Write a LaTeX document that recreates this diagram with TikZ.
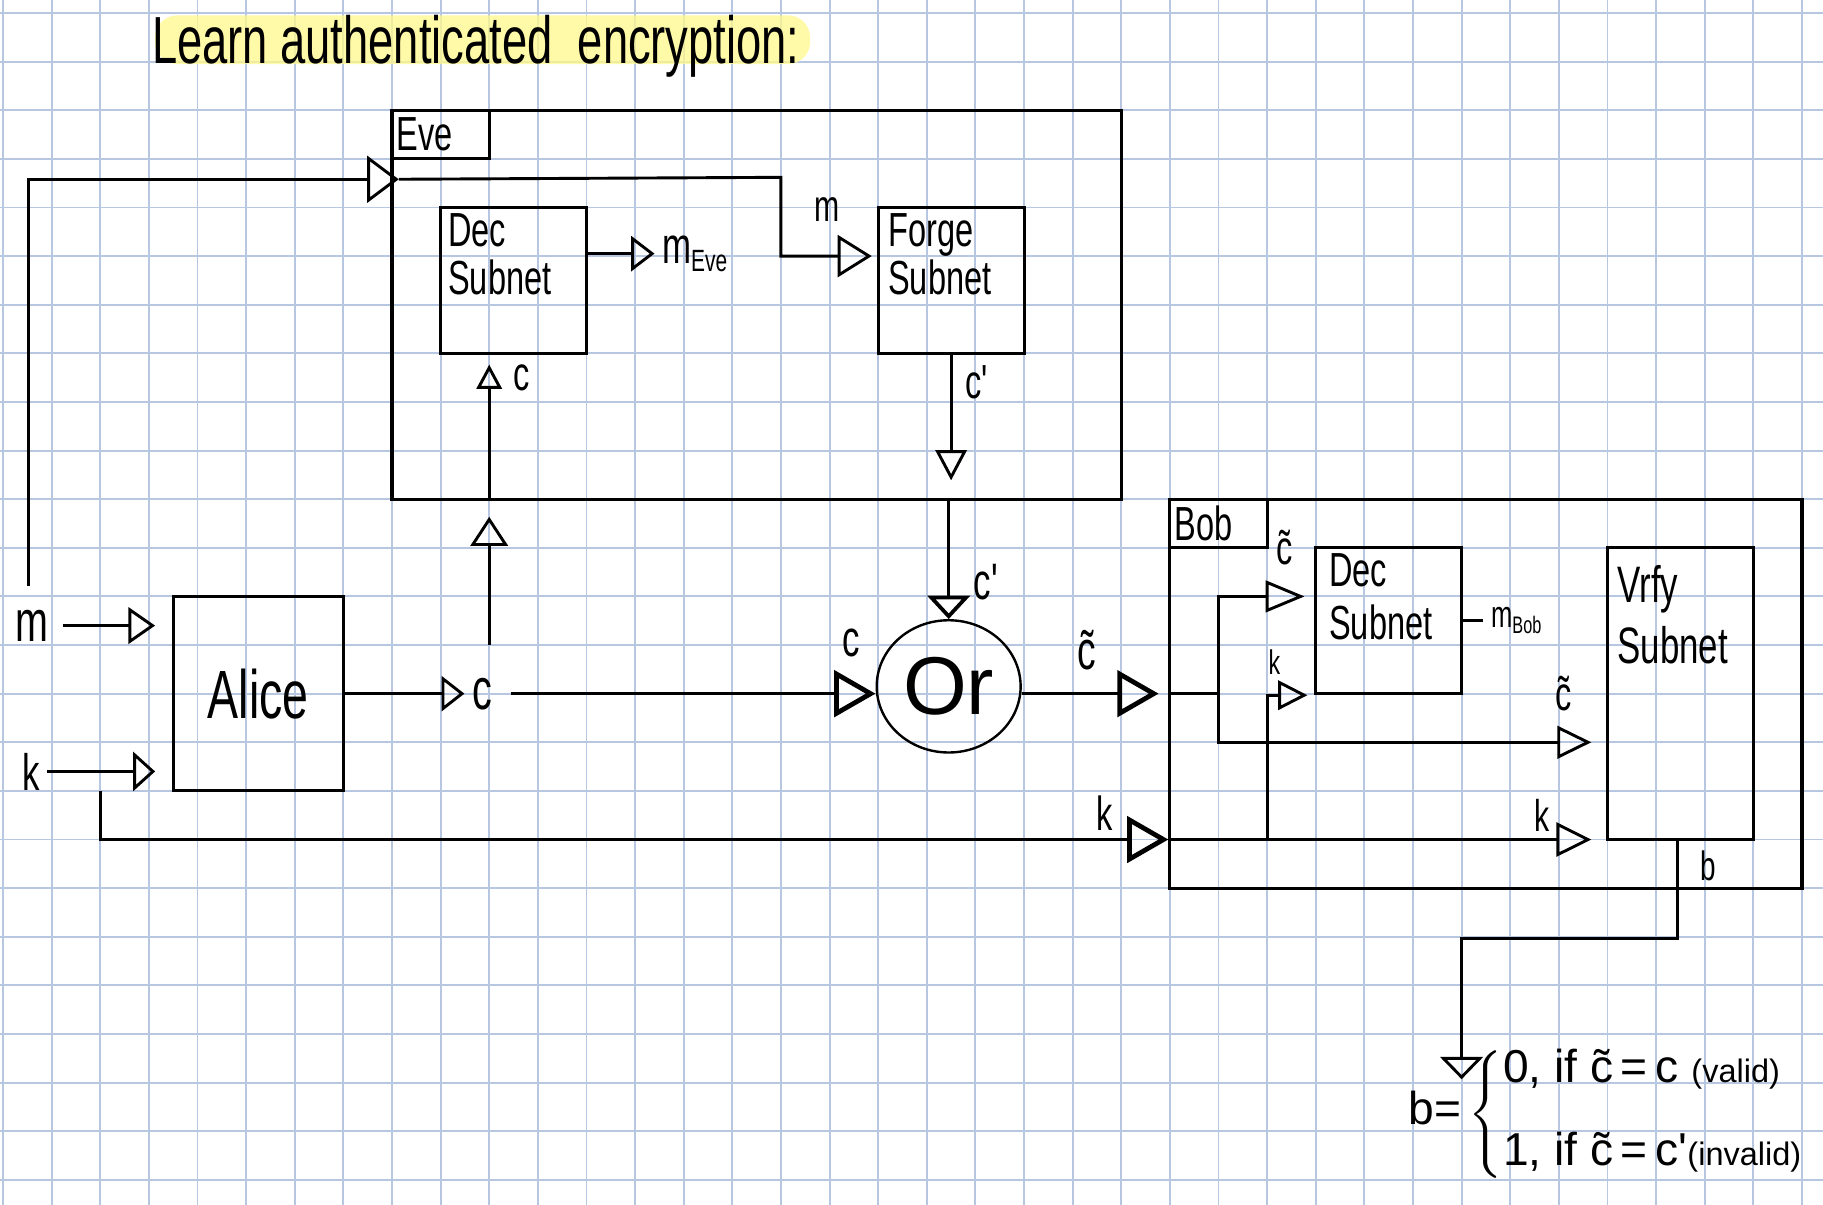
\documentclass[tikz,border=0pt]{standalone}
\usepackage{amsmath}
\usepackage{fontspec}
\setmainfont{Liberation Sans}[FakeStretch=0.68]
\newfontfamily\wide{Liberation Sans}
\usetikzlibrary{shapes.geometric, arrows.meta, positioning, calc}

\definecolor{gridblue}{RGB}{184,199,225}
\definecolor{marker}{RGB}{255,249,140}

\newcommand{\hand}[1]{\fontsize{#1}{#1}\selectfont}
\newcommand{\ctl}{c^^^^0303}
\newcommand{\cpr}{c\textquotesingle}

\begin{document}
\begin{tikzpicture}[
    x=1cm, y=-1cm,
    gridline/.style={gridblue, line width=1.1pt},
    box/.style={draw, line width=1.8pt, inner sep=0pt},
    tagbox/.style={box, minimum width=2cm, minimum height=1cm, anchor=north west,
                   text width=1.8cm, align=left, font=\hand{28}},
    subtitle/.style={inner sep=0pt, anchor=north west, align=left, font=\hand{28}},
    lbl/.style={inner sep=0pt, font=\hand{#1}},
    lbl/.default=30,
    wire/.style={line width=1.7pt},
    arrow/.style={-{Triangle[open, #1]}, line width=1.7pt},
    arrow/.default={length=5.5mm, width=7mm},
    bigarrow/.style={-{Triangle[open, length=8.5mm, width=9.5mm, line width=2.8pt]}, line width=1.7pt}
]
    % squared paper
    \useasboundingbox (-0.062,-0.267) rectangle (37.433,24.517);
    \fill[white] (-0.062,-0.267) rectangle (37.433,24.517);
    \foreach \i in {0,...,37}
        \draw[gridline] (\i,-0.267) -- (\i,24.517);
    \foreach \j in {0,...,24}
        \draw[gridline] (-0.062,\j) -- (37.433,\j);

    % heading
    \fill[marker, opacity=0.75, rounded corners=0.45cm] (3.13,0.05) rectangle (16.6,1.05);
    \node[inner sep=0pt, anchor=base west, font=\hand{39}] (heading) at (3.06,1.03)
        {Learn authenticated\ \ encryption:};

    % Eve
    \node[box, minimum width=15cm, minimum height=8cm] (eve) at (15.5,6) {};
    \node[tagbox] (evetag) at (eve.north west) {Eve};
    \node[box, minimum width=3cm, minimum height=3cm] (evedec) at (10.5,5.5) {};
    \node[subtitle] (evedectext) at (9.15,4.12) {Dec\\Subnet};
    \node[box, minimum width=3cm, minimum height=3cm] (forge) at (19.5,5.5) {};
    \node[subtitle] (forgetext) at (18.2,4.12) {Forge\\Subnet};

    % Alice and the or gate
    \node[box, minimum width=3.5cm, minimum height=4cm, font=\hand{40}] (alice) at (5.25,14) {Alice};
    \node[draw, ellipse, line width=1.4pt, inner sep=0pt, minimum width=2.96cm,
          minimum height=2.72cm, font=\wide\hand{48}] (or) at (19.45,13.85) {Or};

    % Bob
    \node[box, minimum width=13cm, minimum height=8cm] (bob) at (30.5,14) {};
    \node[tagbox] (bobtag) at (bob.north west) {Bob};
    \node[box, minimum width=3cm, minimum height=3cm] (bobdec) at (28.5,12.5) {};
    \node[subtitle] (bobdectext) at (27.27,11.12) {Dec\\[0.1cm]Subnet};
    \node[box, minimum width=3cm, minimum height=6cm] (vrfy) at (34.5,14) {};
    \node[subtitle, font=\hand{30}] (vrfytext) at (33.2,11.35) {Vrfy\\[0.2cm]Subnet};

    % labels
    \node[lbl=34] (min) at (0.6,12.6) {m};
    \node[lbl=30] (kin) at (0.57,15.6) {k};
    \node[lbl=34] (cmain) at (9.85,14) {c};
    \node[lbl=28] (cdec) at (10.67,7.5) {c};
    \node[lbl=30, anchor=west] (meve) at (13.55,4.95) {m\raisebox{-0.15em}{\hand{18}Eve}};
    \node[lbl=26] (mforge) at (16.95,4.05) {m};
    \node[lbl=28] (cpforge) at (20.05,7.6) {\cpr};
    \node[lbl=30] (cpor) at (20.25,11.7) {\cpr};
    \node[lbl=30] (cor) at (17.45,12.95) {c};
    \node[lbl=32] (ctor) at (22.3,13.1) {\ctl};
    \node[lbl=28] (kbob) at (22.65,16.45) {k};
    \node[lbl=28] (ctdec) at (26.35,11) {\ctl};
    \node[lbl=20] (kdec) at (26.15,13.35) {k};
    \node[lbl=22, anchor=west] (mbob) at (30.6,12.5) {m\raisebox{-0.15em}{\hand{14}Bob}};
    \node[lbl=28] (ctvrfy) at (32.1,14) {\ctl};
    \node[lbl=26] (kvrfy) at (31.65,16.5) {k};
    \node[lbl=24] (bout) at (35.07,17.55) {b};
    \node[inner sep=0pt, anchor=west, font=\wide\hand{27}] (bval) at (28.9,22.65)
        {b=\,$\left\{\begin{tabular}{@{}l@{}}0,\ if \ctl\,=\,c\ {\hand{19}(valid)}\\[0.75cm]
         1,\ if \ctl\,=\,\cpr{\hand{19}(invalid)}\end{tabular}\right.$};

    \coordinate (evein) at (8.14,3.42);
    \coordinate (forgein) at (forge.west |- 0,5);
    \coordinate (cup) at (10,13);
    \coordinate (ksplit) at (2,16);
    \coordinate (csplit) at (25,14);
    \coordinate (kbsplit) at (26,17);
    \coordinate (bdown) at (30,21.93);

    % Alice's inputs
    \draw[arrow={length=5.5mm, width=7.5mm}, shorten <=0.28cm, shorten >=0.34cm] (min.east) -- (min.east -| alice.west);
    \draw[arrow={length=4.5mm, width=8mm}, shorten <=0.15cm, shorten >=0.34cm] (kin.east) -- (kin.east -| alice.west);
    \draw[arrow={length=6.5mm, width=9.6mm}, shorten <=0.48cm] ([xshift=-0.07cm]min.north) |- (evein);
    \draw[arrow={length=7mm, width=8.6mm}, shorten >=0.1cm] (evein) -- (16,3.38) |- (forgein);

    % inside Eve
    \draw[arrow={length=4.8mm, width=7.2mm}, shorten >=0.15cm] (evedec.east |- meve) -- (meve.west);
    \draw[arrow={length=6mm, width=7.7mm}, shorten >=0.33cm] (cup) -- (cup |- eve.south);
    \draw[arrow={length=5mm, width=5.2mm}, shorten >=0.2cm] (cup |- eve.south) -- (cup |- evedec.south);
    \draw[arrow={length=6.2mm, width=6.4mm}, shorten >=0.42cm] (forge.south) -- (forge.south |- eve.south);

    % into and out of the or gate
    \draw[arrow={length=4.7mm, width=7.2mm}, shorten >=0.15cm] (alice.east) -- (cmain.west);
    \draw[bigarrow, shorten <=0.38cm] (cmain.east) -- (cmain -| or.west);
    \draw[arrow={length=4.8mm, width=8.7mm, line width=2.2pt}] (or.north |- eve.south) -- (or.north);
    \draw[bigarrow, shorten >=0.2cm] (cmain -| or.east) -- (cmain -| bob.west);
    \draw[bigarrow] (ksplit) |- (bob.west |- 0,17);

    % inside Bob
    \draw[wire] (cmain -| bob.west) -- (csplit);
    \draw[arrow={length=8mm, width=6.5mm}, shorten >=0.2cm] (csplit) |- (bobdec.west |- 0,12);
    \draw[arrow={length=7mm, width=6.7mm}, shorten >=0.3cm] (csplit) |- (vrfy.west |- 0,15);
    \draw[arrow={length=7.2mm, width=7mm}, shorten >=0.3cm] (bob.west |- 0,17) -- (vrfy.west |- 0,17);
    \draw[arrow={length=6mm, width=6mm}, shorten >=0.14cm] (kbsplit) |- (bobdec.south west);
    \draw[wire, shorten >=0.17cm] (bobdec.east |- mbob) -- (mbob.west);

    % result bit
    \draw[arrow={length=4.6mm, width=8.8mm}] ([xshift=-0.06cm]vrfy.south) -- ++(0,2) -| (bdown);
\end{tikzpicture}
\end{document}
